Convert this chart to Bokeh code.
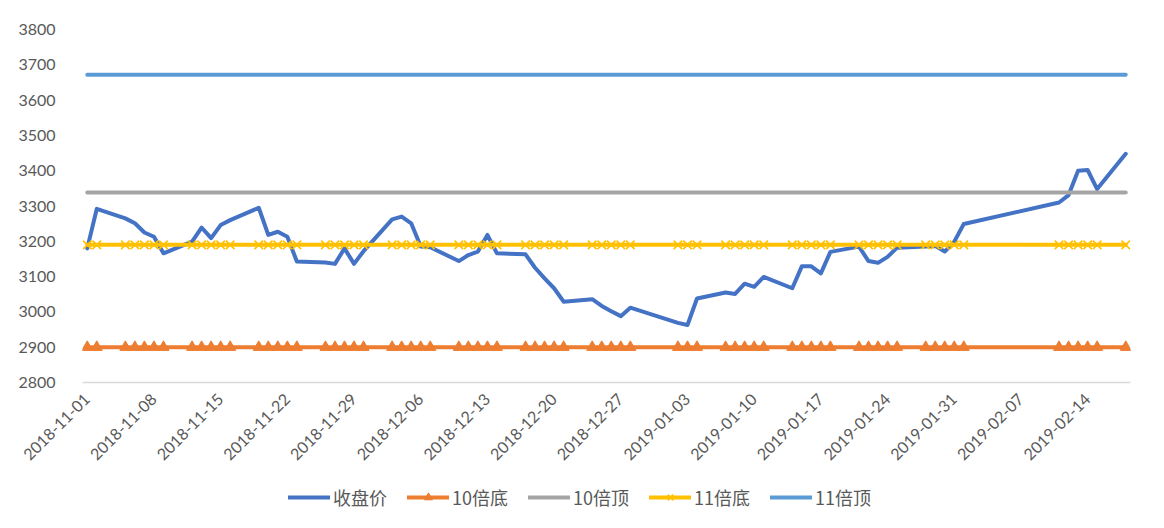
import datetime as dt
from bokeh.plotting import figure
from bokeh.layouts import column
from bokeh.models import Range1d, FixedTicker, DatetimeTickFormatter, Legend, LegendItem
from bokeh.embed import file_html
from bokeh.resources import INLINE
import math

# ---------------- data ----------------
dates = [
    "2018-11-01", "2018-11-02", "2018-11-05", "2018-11-06", "2018-11-07", "2018-11-08", "2018-11-09",
    "2018-11-12", "2018-11-13", "2018-11-14", "2018-11-15", "2018-11-16",
    "2018-11-19", "2018-11-20", "2018-11-21", "2018-11-22", "2018-11-23",
    "2018-11-26", "2018-11-27", "2018-11-28", "2018-11-29", "2018-11-30",
    "2018-12-03", "2018-12-04", "2018-12-05", "2018-12-06", "2018-12-07",
    "2018-12-10", "2018-12-11", "2018-12-12", "2018-12-13", "2018-12-14",
    "2018-12-17", "2018-12-18", "2018-12-19", "2018-12-20", "2018-12-21",
    "2018-12-24", "2018-12-25", "2018-12-26", "2018-12-27", "2018-12-28",
    "2019-01-02", "2019-01-03", "2019-01-04",
    "2019-01-07", "2019-01-08", "2019-01-09", "2019-01-10", "2019-01-11",
    "2019-01-14", "2019-01-15", "2019-01-16", "2019-01-17", "2019-01-18",
    "2019-01-21", "2019-01-22", "2019-01-23", "2019-01-24", "2019-01-25",
    "2019-01-28", "2019-01-29", "2019-01-30", "2019-01-31", "2019-02-01",
    "2019-02-11", "2019-02-12", "2019-02-13", "2019-02-14", "2019-02-15",
    "2019-02-18",
]
close = [
    3180, 3292, 3265, 3251, 3225, 3213, 3166,
    3199, 3239, 3209, 3246, 3260,
    3295, 3218, 3227, 3213, 3143,
    3140, 3136, 3180, 3136, 3172,
    3262, 3270, 3251, 3185, 3183,
    3144, 3161, 3171, 3218, 3166,
    3163, 3125, 3095, 3067, 3029,
    3036, 3017, 3002, 2988, 3012,
    2969, 2963, 3038,
    3055, 3051, 3080, 3071, 3099,
    3067, 3129, 3129, 3109, 3170,
    3185, 3144, 3139, 3156, 3182,
    3185, 3187, 3171, 3199, 3249,
    3310, 3331, 3400, 3402, 3348,
    3448,
]
pe10_low = 2900    # 10倍底
pe10_high = 3338   # 10倍顶
pe11_low = 3190    # 11倍底
pe11_high = 3672   # 11倍顶

series_names = ["收盘价", "10倍底", "10倍顶", "11倍底", "11倍顶"]
x_tick_labels = ["2018-11-01", "2018-11-08", "2018-11-15", "2018-11-22", "2018-11-29",
                 "2018-12-06", "2018-12-13", "2018-12-20", "2018-12-27", "2019-01-03",
                 "2019-01-10", "2019-01-17", "2019-01-24", "2019-01-31", "2019-02-07",
                 "2019-02-14"]
y_ticks = [2800, 2900, 3000, 3100, 3200, 3300, 3400, 3500, 3600, 3700, 3800]

# ---------------- helpers ----------------
def to_dt(s):
    return dt.datetime.strptime(s, "%Y-%m-%d")

EPOCH = dt.datetime(1970, 1, 1)
def to_ms(d):
    return (d - EPOCH).total_seconds() * 1000.0

xs = [to_dt(s) for s in dates]
DAY = 86400000.0
NAN = float("nan")

FONT = "Lato"
TXT = "#595959"
C_CLOSE, C_L10, C_H10, C_L11, C_H11 = "#4472C4", "#ED7D31", "#A5A5A5", "#FFC000", "#5B9BD5"
LW = 4
common = dict(line_width=LW, line_cap="round", line_join="round")
tri = dict(marker="triangle", size=11, fill_color=C_L10, line_color=C_L10)
cross = dict(marker="x", size=12, line_color=C_L11, line_width=1.6)

# ---------------- main chart ----------------
p = figure(
    x_axis_type="datetime",
    frame_width=1048, frame_height=353,
    min_border_left=82, min_border_right=30, min_border_top=29, min_border_bottom=100,
    output_backend="svg", toolbar_location=None,
    x_range=Range1d(to_ms(xs[0]) - 0.5 * DAY, to_ms(xs[-1]) + 0.5 * DAY),
    y_range=Range1d(y_ticks[0], y_ticks[-1]),
)
p.outline_line_color = None
p.xgrid.grid_line_color = None
p.ygrid.grid_line_color = None
p.background_fill_color = "white"
p.border_fill_color = "white"

p.xaxis.ticker = FixedTicker(ticks=[to_ms(to_dt(s)) for s in x_tick_labels])
fmt = "%Y-%m-%d"
p.xaxis.formatter = DatetimeTickFormatter(
    microseconds=fmt, milliseconds=fmt, seconds=fmt, minsec=fmt, minutes=fmt,
    hourmin=fmt, hours=fmt, days=fmt, months=fmt, years=fmt)
p.xaxis.major_label_orientation = math.pi / 4
p.xaxis.major_tick_line_color = None
p.xaxis.minor_tick_line_color = None
p.xaxis.axis_line_color = "#D9D9D9"
p.xaxis.axis_line_width = 1.5
p.xaxis.major_label_text_font = FONT
p.xaxis.major_label_text_font_size = "16px"
p.xaxis.major_label_text_color = TXT
p.xaxis.major_label_standoff = 8

p.yaxis.ticker = FixedTicker(ticks=y_ticks)
p.yaxis.major_tick_line_color = None
p.yaxis.minor_tick_line_color = None
p.yaxis.axis_line_color = None
p.yaxis.major_label_text_font = FONT
p.yaxis.major_label_text_font_size = "16px"
p.yaxis.major_label_text_color = TXT
p.yaxis.major_label_standoff = 21

p.line(xs, close, line_color=C_CLOSE, **common)
p.line(xs, [pe10_low] * len(xs), line_color=C_L10, **common)
p.scatter(xs, [pe10_low] * len(xs), **tri)
p.line(xs, [pe10_high] * len(xs), line_color=C_H10, **common)
p.line(xs, [pe11_low] * len(xs), line_color=C_L11, **common)
p.scatter(xs, [pe11_low] * len(xs), **cross)
p.line(xs, [pe11_high] * len(xs), line_color=C_H11, **common)

# ---------------- legend strip (keys only; nothing plotted) ----------------
lg = figure(width=1160, height=42, output_backend="svg", toolbar_location=None,
            x_axis_type=None, y_axis_type=None,
            x_range=Range1d(0, 1), y_range=Range1d(0, 1),
            min_border=0)
lg.outline_line_color = None
lg.xgrid.grid_line_color = None
lg.ygrid.grid_line_color = None
lg.background_fill_color = "white"
lg.border_fill_color = "white"

k_close = lg.line([NAN], [NAN], line_color=C_CLOSE, **common)
k_l10 = lg.line([NAN], [NAN], line_color=C_L10, **common)
k_l10m = lg.scatter([NAN], [NAN], **tri)
k_h10 = lg.line([NAN], [NAN], line_color=C_H10, **common)
k_l11 = lg.line([NAN], [NAN], line_color=C_L11, **common)
k_l11m = lg.scatter([NAN], [NAN], **cross)
k_h11 = lg.line([NAN], [NAN], line_color=C_H11, **common)

legend = Legend(
    items=[
        LegendItem(label=series_names[0], renderers=[k_close]),
        LegendItem(label=series_names[1], renderers=[k_l10, k_l10m]),
        LegendItem(label=series_names[2], renderers=[k_h10]),
        LegendItem(label=series_names[3], renderers=[k_l11, k_l11m]),
        LegendItem(label=series_names[4], renderers=[k_h11]),
    ],
    orientation="horizontal",
    location=(206, 14),
    border_line_color=None,
    background_fill_alpha=0,
    label_text_font="Noto Sans CJK SC",
    label_text_font_size="18px",
    label_text_color=TXT,
    glyph_width=42, glyph_height=20,
    label_standoff=3, spacing=20, padding=5, margin=0,
)
lg.add_layout(legend)

layout = column(p, lg, spacing=0)
open("out.html", "w").write(file_html(layout, INLINE))
